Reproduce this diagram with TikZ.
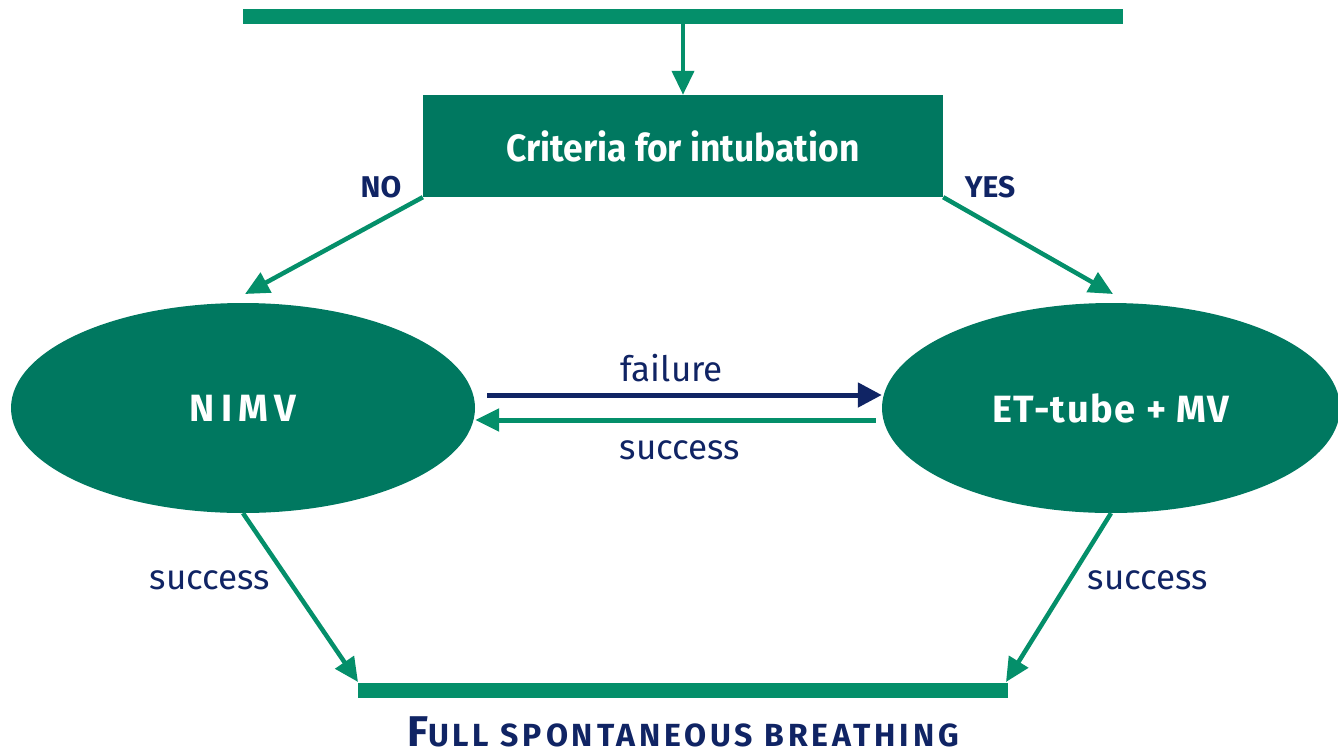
\documentclass[tikz,border=0pt]{standalone}
\usepackage{fontspec}
\setmainfont{Fira Sans}
\newfontfamily\cond[FakeStretch=0.93]{Fira Sans}
\newfontfamily\spaced[LetterSpace=4]{Fira Sans}
\newfontfamily\wide[LetterSpace=12]{Fira Sans}
\usetikzlibrary{arrows.meta,shapes.geometric}
\definecolor{darkgreen}{RGB}{0,120,96}
\definecolor{linegreen}{RGB}{4,143,106}
\definecolor{navy}{RGB}{16,36,100}
\tikzset{
  greenline/.style={draw=linegreen, line width=4.5pt, -{Triangle[length=24pt,width=22pt]}},
  navyline/.style={draw=navy, line width=5pt, -{Triangle[length=24pt,width=24pt]}},
  bar/.style={draw=linegreen, line width=15pt},
  boxnode/.style={rectangle, fill=darkgreen, minimum width=520pt, minimum height=102pt, inner sep=0pt, text=white, font=\cond\bfseries\fontsize{38}{40}\selectfont},
  ellnode/.style={ellipse, fill=darkgreen, minimum height=210pt, inner sep=0pt, text=white, font=\spaced\bfseries\fontsize{38}{40}\selectfont},
  lbl/.style={text=navy, font=\fontsize{35}{37}\selectfont, inner sep=0pt},
  yn/.style={text=navy, font=\bfseries\fontsize{30}{32}\selectfont, inner sep=0pt},
}
\begin{document}
\begin{tikzpicture}[x=1pt,y=-1pt]
\useasboundingbox (0,0) rectangle (1338,753);
% top bar
\coordinate (topL) at (243,16);
\coordinate (topR) at (1123,16);
\coordinate (topM) at (683,16);
\draw[bar] (topL) -- (topR);
% criteria box
\node[boxnode] (crit) at (683,146) {Criteria for intubation};
\draw[greenline, line width=4pt] (topM) -- (crit.north);
% ellipses
\node[ellnode, minimum width=464pt] (nimv) at (243,408) {N\,I\,M\,V};
\node[ellnode, minimum width=458pt] (et) at (1111,408) {ET-tube + MV};
% NO / YES
\coordinate (noEnd) at (245,294);
\coordinate (yesEnd) at (1113,294);
\draw[greenline] (crit.south west) -- (noEnd);
\draw[greenline] (crit.south east) -- (yesEnd);
\node[yn] (no) at (381,187) {NO};
\node[yn] (yes) at (990,187) {YES};
% failure / success between ellipses
\draw[navyline] ([yshift=13pt]nimv.east) ++(12,0) coordinate (fS) -- ([yshift=13pt]et.west) coordinate (fE);
\draw[greenline, line width=5pt] ([yshift=-12pt]et.west) ++(-6,0) coordinate (sS) -- ([yshift=-12pt]nimv.east) coordinate (sE);
\node[lbl] (failure) at (672,368) {failure};
\node[lbl] (succ1) at (680,450) {success};
% bottom bar
\coordinate (botL) at (358,690);
\coordinate (botR) at (1008,690);
\draw[bar] (botL) -- (botR);
\coordinate (botLa) at (358,682);
\coordinate (botRa) at (1006,682);
\draw[greenline] (nimv.south) -- (botLa);
\draw[greenline] (et.south) -- (botRa);
\node[lbl] (succ2) at (210,580) {success};
\node[lbl] (succ3) at (1148,580) {success};
\node[text=navy, inner sep=0pt, anchor=base, text depth=0pt, text height=30pt, font=\wide\bfseries] (fsb) at (683,746)
  {\fontsize{43}{45}\selectfont F\fontsize{32}{34}\selectfont ULL SPONTANEOUS BREATHING};
\end{tikzpicture}
\end{document}
